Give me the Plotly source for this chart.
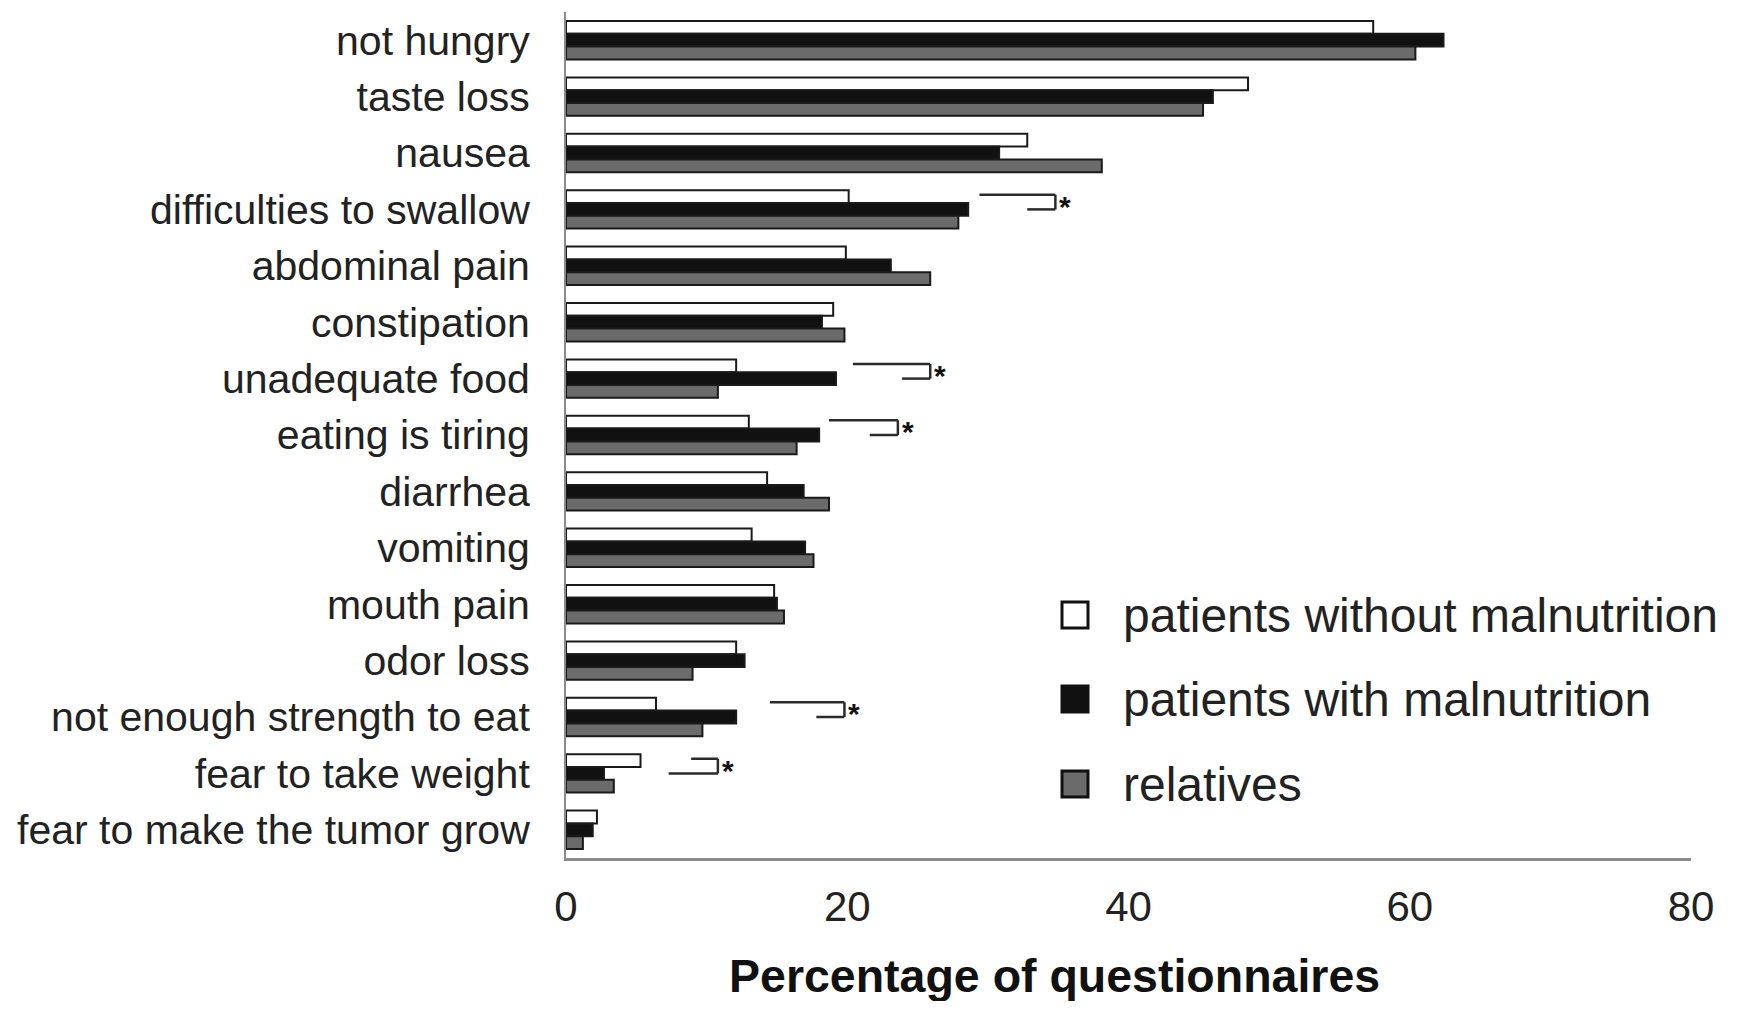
import plotly.graph_objects as go

# ---------------- data ----------------
categories = [
    "not hungry", "taste loss", "nausea", "difficulties to swallow",
    "abdominal pain", "constipation", "unadequate food", "eating is tiring",
    "diarrhea", "vomiting", "mouth pain", "odor loss",
    "not enough strength to eat", "fear to take weight",
    "fear to make the tumor grow",
]
without_malnutrition = [57.4, 48.5, 32.8, 20.1, 19.9, 19.0, 12.1, 13.0, 14.3, 13.2, 14.8, 12.1, 6.4, 5.3, 2.2]
with_malnutrition    = [62.4, 46.0, 30.8, 28.6, 23.1, 18.2, 19.2, 18.0, 16.9, 17.0, 15.0, 12.7, 12.1, 2.7, 1.9]
relatives            = [60.4, 45.3, 38.1, 27.9, 25.9, 19.8, 10.8, 16.4, 18.7, 17.6, 15.5, 9.0, 9.7, 3.4, 1.2]

series_names = ["patients without malnutrition", "patients with malnutrition", "relatives"]
x_ticks = [0, 20, 40, 60, 80]
x_title = "Percentage of questionnaires"

# significance brackets: category, start of upper line, start of lower line, bracket end
sig_categories = ["difficulties to swallow", "unadequate food", "eating is tiring",
                  "not enough strength to eat", "fear to take weight"]
sig_upper_start = [29.4, 20.4, 18.7, 14.5, 8.9]
sig_lower_start = [32.8, 23.9, 21.6, 17.8, 7.3]
sig_end = [34.8, 25.9, 23.6, 19.8, 10.8]

# ---------------- style ----------------
FONT = "Liberation Sans, Arial, Helvetica, sans-serif"
TXT = "#222222"
colors = ["#ffffff", "#111111", "#6b6b6b"]
values = [without_malnutrition, with_malnutrition, relatives]

# the page body has an 8px margin; lay out in figure pixels accordingly
OFF = 8
W, H = 1743 - 2 * OFF, 1009 - 2 * OFF
plot_left, plot_right, plot_top, plot_bottom = 566 - OFF, 1691 - OFF, 12 - OFF, 858 - OFF
ml, mr, mt, mb = plot_left, W - plot_right, plot_top, H - plot_bottom
pw, ph = plot_right - plot_left, plot_bottom - plot_top


def px2paper_x(px):
    return (px - OFF - plot_left) / pw


def px2paper_y(py):
    return (plot_bottom - (py - OFF)) / ph


fig = go.Figure()
for name, vals, col in zip(series_names, values, colors):
    fig.add_trace(go.Bar(
        y=categories, x=vals, name=name, orientation="h",
        marker=dict(color=col, line=dict(color="#1a1a1a", width=2)),
        showlegend=False,
    ))

shapes = []
annotations = []
for cat, xu, xl, xe in zip(sig_categories, sig_upper_start, sig_lower_start, sig_end):
    i = categories.index(cat)
    yu = i - 0.26
    yl = i + 0.0
    line = dict(color="#2a2a2a", width=2.5)
    shapes.append(dict(type="line", xref="x", yref="y", x0=xu, x1=xe, y0=yu, y1=yu, line=line))
    shapes.append(dict(type="line", xref="x", yref="y", x0=xl, x1=xe, y0=yl, y1=yl, line=line))
    shapes.append(dict(type="line", xref="x", yref="y", x0=xe, x1=xe, y0=yu, y1=yl, line=line))
    annotations.append(dict(x=xe, y=i - 0.13, xref="x", yref="y", text="<b>*</b>",
                            showarrow=False, xanchor="left", xshift=2, yshift=-4,
                            font=dict(family=FONT, size=30, color="#111111")))

# manual legend (large squares)
legend_y = [615, 699, 784]
for name, col, ly in zip(series_names, colors, legend_y):
    shapes.append(dict(type="rect", xref="paper", yref="paper",
                       xsizemode="pixel", ysizemode="pixel",
                       xanchor=px2paper_x(1075), yanchor=px2paper_y(ly),
                       x0=-13, x1=13, y0=-13, y1=13,
                       fillcolor=col, line=dict(color="#111111", width=3)))
    annotations.append(dict(x=px2paper_x(1121), y=px2paper_y(ly), xref="paper", yref="paper",
                            text=name, showarrow=False, xanchor="left", yanchor="middle",
                            font=dict(family=FONT, size=48, color=TXT)))

annotations.append(dict(x=px2paper_x(1054), y=px2paper_y(976), xref="paper", yref="paper",
                        text="<b>" + x_title + "</b>", showarrow=False,
                        xanchor="center", yanchor="middle",
                        font=dict(family=FONT, size=46.5, color="#111111")))

fig.update_layout(
    width=W, height=H,
    margin=dict(l=ml, r=mr, t=mt, b=mb, pad=0),
    paper_bgcolor="white", plot_bgcolor="white",
    barmode="group", bargap=0.32, bargroupgap=0.0,
    shapes=shapes, annotations=annotations,
    font=dict(family=FONT, color=TXT),
)
fig.update_xaxes(
    range=[0, 80], tickvals=x_ticks, ticktext=[str(t) for t in x_ticks],
    showgrid=False, zeroline=False, showline=True, linecolor="#8a8a8a", linewidth=2.5,
    ticks="", ticklabelstandoff=10, tickfont=dict(family=FONT, size=42, color=TXT),
)
fig.update_yaxes(
    type="category", categoryorder="array", categoryarray=categories,
    range=[14.5, -0.5], showgrid=False, zeroline=False,
    showline=True, linecolor="#8a8a8a", linewidth=2,
    ticks="", ticklabelstandoff=26, tickfont=dict(family=FONT, size=41, color=TXT),
)

fig.write_html("out.html")
